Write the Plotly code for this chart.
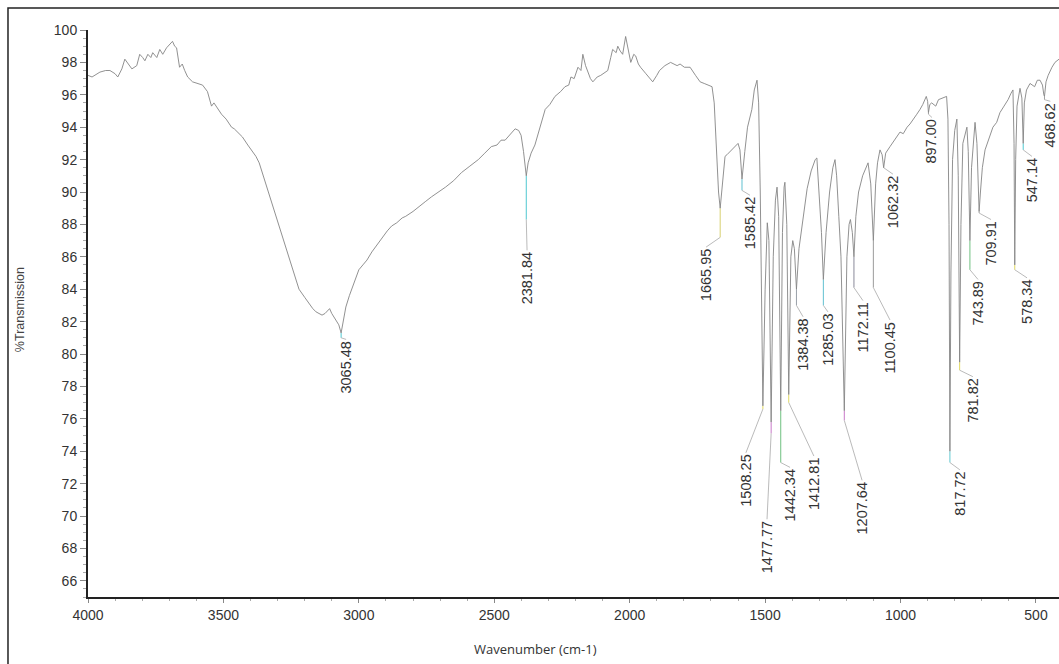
import plotly.graph_objects as go

# ---------------- data ----------------
wavenumber = [
    4000, 3985, 3956, 3935, 3919, 3900, 3890, 3875, 3864, 3850, 3838, 3820, 3809, 3798, 3790, 3779,
    3768, 3761, 3746, 3735, 3724, 3710, 3699, 3688, 3680, 3673, 3662, 3652, 3643, 3632, 3614, 3595,
    3577, 3559, 3544, 3535, 3526, 3507, 3490, 3478, 3470, 3460, 3449, 3430, 3410, 3393, 3380, 3368,
    3355, 3342, 3320, 3294, 3268, 3246, 3230, 3221, 3200, 3184, 3170, 3158, 3136, 3125, 3118, 3108,
    3100, 3092, 3074, 3065.48, 3055, 3048, 3035, 3026, 3012, 3000, 2985, 2970, 2952, 2935, 2915, 2895,
    2879, 2860, 2840, 2827, 2800, 2779, 2755, 2732, 2705, 2680, 2650, 2621, 2590, 2559, 2535, 2511,
    2490, 2475, 2460, 2440, 2423, 2410, 2401, 2392, 2381.84, 2375, 2364, 2350, 2338, 2325, 2312, 2295,
    2276, 2255, 2239, 2225, 2217, 2205, 2191, 2180, 2173, 2163, 2154, 2145, 2136, 2120, 2107, 2090,
    2081, 2070, 2063, 2050, 2044, 2035, 2026, 2015, 2005, 1996, 1985, 1978, 1968, 1960, 1940, 1915,
    1900, 1890, 1870, 1849, 1825, 1814, 1798, 1777, 1757, 1740, 1725, 1710, 1696, 1688, 1680, 1672,
    1665.95, 1658, 1648, 1641, 1625, 1611, 1600, 1593, 1585.42, 1575, 1565, 1549, 1540, 1530, 1524, 1518,
    1508.25, 1500, 1492, 1486, 1477.77, 1470, 1462, 1456, 1450, 1442.34, 1436, 1430, 1427, 1420, 1412.81, 1405,
    1398, 1392, 1384.38, 1375, 1360, 1345, 1330, 1315, 1309, 1300, 1292, 1285.03, 1275, 1262, 1250, 1242,
    1236, 1228, 1220, 1207.64, 1198, 1190, 1185, 1178, 1172.11, 1165, 1155, 1140, 1128, 1120, 1110, 1100.45,
    1092, 1085, 1076, 1068, 1062.32, 1055, 1039, 1020, 1002, 990, 976, 965, 954, 940, 928, 918,
    905, 900, 897, 892, 885, 870, 860, 845, 830, 825, 821, 817.72, 814, 808, 800, 792,
    787, 781.82, 777, 770, 760, 755, 750, 743.89, 738, 730, 725, 718, 712, 709.91, 705, 698,
    688, 675, 659, 645, 633, 618, 603, 592, 585, 581, 578.34, 575, 570, 559, 552, 547.14,
    543, 535, 522, 505, 495, 485, 476, 471, 468.62, 463, 455, 441, 430, 415,
]
transmission = [
    97.2, 97.1, 97.4, 97.5, 97.5, 97.3, 97.1, 97.6, 98.2, 97.9, 97.6, 97.8, 98.5, 98.3, 98.1, 98.5,
    98.3, 98.6, 98.3, 98.8, 98.5, 98.9, 99.1, 99.3, 99.0, 98.9, 97.7, 97.9, 97.5, 97.1, 96.8, 96.7,
    96.6, 96.2, 95.3, 95.5, 95.3, 94.8, 94.5, 94.2, 94.0, 93.9, 93.7, 93.4, 92.9, 92.5, 92.2, 91.8,
    91.1, 90.5, 89.3, 87.9, 86.4, 85.3, 84.5, 84.0, 83.5, 83.1, 82.8, 82.6, 82.4, 82.5, 82.6, 82.8,
    82.5, 82.3, 81.8, 81.3, 82.2, 82.9, 83.6, 84.0, 84.6, 85.2, 85.5, 85.8, 86.3, 86.7, 87.2, 87.6,
    87.9, 88.1, 88.4, 88.5, 88.8, 89.1, 89.4, 89.7, 90.0, 90.3, 90.7, 91.2, 91.6, 92.0, 92.4, 92.8,
    92.9, 93.2, 93.2, 93.6, 93.9, 93.8, 93.5, 92.5, 91.0, 91.8, 92.4, 92.9, 93.6, 94.4, 95.1, 95.4,
    95.9, 96.2, 96.5, 96.6, 97.1, 97.0, 97.7, 97.5, 98.5, 97.8, 97.4, 97.0, 96.8, 97.1, 97.2, 97.4,
    97.5, 98.3, 98.8, 98.6, 99.0, 98.7, 98.5, 99.6, 98.8, 98.0, 98.5, 98.4, 97.9, 97.7, 97.3, 96.8,
    97.2, 97.5, 97.8, 98.0, 97.8, 97.9, 97.7, 97.7, 97.2, 96.8, 96.7, 96.6, 96.5, 95.5, 92.5, 90.0,
    89.0, 90.5, 92.2, 92.3, 92.6, 92.8, 93.0, 92.6, 90.8, 92.5, 94.0, 95.1, 96.3, 96.9, 95.5, 90.0,
    76.8, 84.0, 88.1, 87.0, 75.8, 86.0, 89.5, 90.3, 88.5, 76.5, 87.5, 90.3, 90.6, 88.0, 77.5, 86.0,
    87.0, 86.5, 84.0, 86.5, 88.5, 90.2, 91.3, 92.0, 92.1, 90.0, 87.5, 84.6, 87.5, 90.0, 91.5, 92.0,
    91.0, 88.5, 86.0, 76.5, 86.0, 88.0, 88.3, 87.5, 86.0, 88.5, 90.0, 91.0, 91.5, 91.8, 90.5, 87.0,
    90.5, 91.8, 92.6, 92.3, 91.5, 92.4, 92.8, 93.3, 93.7, 93.6, 94.0, 94.2, 94.5, 94.8, 95.1, 95.4,
    95.9, 95.6, 94.9, 95.4, 95.5, 95.3, 95.7, 95.8, 95.9, 94.5, 88.0, 74.0, 85.0, 92.0, 93.8, 94.5,
    91.0, 79.5, 88.0, 93.0, 93.8, 94.0, 92.5, 87.0, 91.5, 93.5, 94.3, 93.0, 90.5, 88.8, 90.0, 91.5,
    92.6, 93.2, 94.0, 94.3, 94.9, 95.3, 95.7, 96.1, 96.3, 93.0, 85.5, 92.0, 95.3, 96.4, 95.8, 93.0,
    95.5, 96.3, 96.7, 96.5, 96.9, 96.9, 96.6, 96.0, 95.9, 96.8, 97.2, 97.7, 98.0, 98.2,
]

peak_labels = ["3065.48", "2381.84", "1665.95", "1585.42", "1508.25", "1477.77", "1442.34",
               "1412.81", "1384.38", "1285.03", "1207.64", "1172.11", "1100.45", "1062.32",
               "897.00", "817.72", "781.82", "743.89", "709.91", "578.34", "547.14", "468.62"]
peak_wn = [3065.48, 2381.84, 1665.95, 1585.42, 1508.25, 1477.77, 1442.34, 1412.81, 1384.38,
           1285.03, 1207.64, 1172.11, 1100.45, 1062.32, 897.00, 817.72, 781.82, 743.89, 709.91,
           578.34, 547.14, 468.62]
peak_T = [81.3, 91.0, 89.0, 90.8, 76.8, 75.8, 76.5, 77.5, 84.0, 84.6, 76.5, 86.0, 87.0, 91.5,
          94.9, 74.0, 79.5, 87.0, 88.8, 85.5, 93.0, 95.9]
marker_end_T = [81.0, 88.3, 87.2, 90.1, 76.6, 75.1, 73.3, 77.0, 83.0, 83.0, 75.9, 84.1, 84.1,
                91.5, 94.8, 73.3, 79.0, 85.2, 88.7, 85.2, 92.6, 95.7]
label_wn = [3047, 2379, 1718, 1556, 1571, 1493, 1408, 1320, 1360, 1268, 1142, 1139, 1039, 1028,
            884, 781, 733, 714, 666, 533, 515, 447]
label_T = [80.9, 86.4, 86.6, 89.8, 73.9, 69.8, 73.0, 73.7, 82.3, 82.6, 72.2, 83.3, 82.1, 91.1,
           94.6, 72.85, 78.6, 84.6, 88.3, 84.7, 92.2, 95.6]
marker_colors = ["#4fc8d0", "#4fc8d0", "#d8d070", "#60c0d0", "#e0d860", "#c878c8", "#70c080",
                 "#e0d860", "#9aa0a8", "#60c0d0", "#c878c8", "#8a8a9a", "#9a9a9a", "#a0a0a0",
                 "#a0a0a0", "#60c8d0", "#e0d860", "#70c080", "#a0a0a0", "#e0d860", "#4fc8d0",
                 "#a0a0a0"]

x_ticks = [4000, 3500, 3000, 2500, 2000, 1500, 1000, 500]
y_ticks = list(range(66, 101, 2))

# ---------------- figure ----------------
fig = go.Figure()

for wn, t, me, lw, lt, col in zip(peak_wn, peak_T, marker_end_T, label_wn, label_T, marker_colors):
    fig.add_trace(go.Scatter(x=[wn, wn], y=[t, me], mode="lines",
                             line=dict(color=col, width=1), hoverinfo="skip", showlegend=False))
    fig.add_trace(go.Scatter(x=[wn, lw], y=[me, lt], mode="lines",
                             line=dict(color="#a8a8a8", width=0.8), hoverinfo="skip", showlegend=False))

fig.add_trace(go.Scatter(x=wavenumber, y=transmission, mode="lines",
                         line=dict(color="#858585", width=0.9), showlegend=False))

for txt, lw, lt in zip(peak_labels, label_wn, label_T):
    fig.add_annotation(x=lw, y=lt, text=txt, textangle=-90, showarrow=False,
                       xanchor="center", yanchor="top",
                       font=dict(family="Liberation Sans, Arial", size=14.5, color="#333333"))

# axis titles
fig.add_annotation(xref="paper", yref="paper", x=-0.070, y=0.506, text="%Transmission",
                   textangle=-90, showarrow=False, xanchor="center", yanchor="middle",
                   font=dict(family="Liberation Sans, Arial", size=12.5, color="#444444"))
fig.add_annotation(xref="paper", yref="paper", x=0.4604, y=-0.0917, text="Wavenumber (cm-1)",
                   showarrow=False, xanchor="center", yanchor="middle",
                   font=dict(family="Open Sans, Liberation Sans", size=13, color="#333333"))

# outer frame
fig.add_shape(type="rect", xref="paper", yref="paper", x0=-0.0824, x1=1.02, y0=-0.14, y1=1.0388,
              line=dict(color="#222222", width=1.5), fillcolor="rgba(0,0,0,0)")

fig.update_layout(
    width=1059, height=664, autosize=False,
    margin=dict(l=88, r=0, t=30, b=67),
    paper_bgcolor="white", plot_bgcolor="white",
    xaxis=dict(range=[4000, 415], tickvals=x_ticks, showgrid=False, zeroline=False,
               showline=True, linecolor="#222222", linewidth=2, ticks="outside", ticklen=4,
               tickcolor="#888888",
               tickfont=dict(family="Liberation Sans, Arial", size=14, color="#333333"),
               minor=dict(dtick=100, ticks="outside", ticklen=2, tickcolor="#aaaaaa")),
    yaxis=dict(range=[65, 100], tickvals=y_ticks, showgrid=False, zeroline=False,
               showline=True, linecolor="#222222", linewidth=2, ticks="outside", ticklen=6,
               tickcolor="#888888", tickfont=dict(family="Liberation Sans, Arial", size=14, color="#333333"),
               minor=dict(dtick=0.5, ticks="outside", ticklen=3, tickcolor="#aaaaaa")),
)

fig.write_html("out.html", config={"displayModeBar": False},
               post_script="document.body.style.margin='0';document.body.style.overflow='hidden';")
